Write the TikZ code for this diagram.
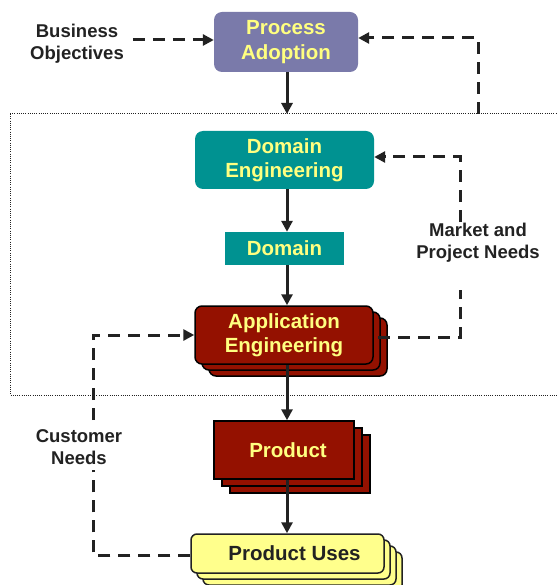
\documentclass[tikz,border=0pt]{standalone}
\usepackage{fontspec}
\setmainfont{Liberation Sans}
\usetikzlibrary{arrows.meta}
\definecolor{paFill}{RGB}{122,122,170}
\definecolor{teal2}{RGB}{0,146,145}
\definecolor{dred}{RGB}{148,17,0}
\definecolor{ylw}{RGB}{255,255,140}
\definecolor{txtY}{RGB}{255,255,128}
\definecolor{ink}{RGB}{34,34,34}
\tikzset{
  boxfont/.style={font=\fontsize{20.5}{24.5}\selectfont\bfseries, align=center, inner sep=0pt},
  pabox/.style={boxfont, fill=paFill, text=txtY, rounded corners=8pt, minimum width=144pt, minimum height=60pt},
  debox/.style={boxfont, fill=teal2, text=txtY, rounded corners=8pt, minimum width=179pt, minimum height=58pt},
  dbox/.style={boxfont, fill=teal2, text=txtY, minimum width=119pt, minimum height=33pt},
  aebox/.style={boxfont, fill=dred, draw=black, line width=1.5pt, text=txtY, rounded corners=7pt, minimum width=178pt, minimum height=58pt},
  prbox/.style={boxfont, fill=dred, draw=black, line width=1.5pt, text=txtY, minimum width=140pt, minimum height=58pt},
  pubox/.style={boxfont, fill=ylw, draw=ink, line width=1.5pt, text=ink, rounded corners=6pt, minimum width=193pt, minimum height=39pt},
  lbl/.style={font=\fontsize{18.5}{22}\selectfont\bfseries, align=center, text=ink, inner sep=1pt},
  flow/.style={draw=ink, line width=3pt, -{Triangle[length=11pt,width=11pt]}},
  dflow/.style={draw=ink, line width=3pt, dash pattern=on 12pt off 8pt, -{Triangle[length=11pt,width=11pt]}},
  dline/.style={draw=ink, line width=3pt, dash pattern=on 12pt off 8pt},
  scopebox/.style={draw=ink, line width=1pt, dash pattern=on 1pt off 1.2pt},
}
\begin{document}
\begin{tikzpicture}[x=1pt,y=-1pt]
\useasboundingbox (0,0) rectangle (556,585);
% dotted region
\draw[scopebox] (10,114) -- (570,114);
\draw[scopebox] (10,114) -- (10,395) -- (570,395);
\coordinate (scopeTop) at (287,114);
\coordinate (scopeRight) at (478,114);

% nodes
\node[pabox] (pa) at (286,42) {Process\\Adoption};
\node[debox] (de) at (284.5,160) {Domain\\Engineering};
\node[dbox] (dom) at (284.5,248.5) {Domain};

\node[aebox] (ae3) at (298,347) {};
\node[aebox] (ae2) at (291,341) {};
\node[aebox] (ae) at (284,335) {Application\\Engineering};

\node[prbox] (pr3) at (300,464) {};
\node[prbox] (pr2) at (292,457) {};
\node[prbox] (pr) at (284,450) {\hspace*{8pt}Product};

\node[pubox] (pu4) at (305.5,571.5) {};
\node[pubox] (pu3) at (299.5,565.5) {};
\node[pubox] (pu2) at (293.5,559.5) {};
\node[pubox] (pu) at (287.5,553.5) {\hspace*{14pt}Product Uses};

\node[lbl] (bo) at (77,44) {Business\\Objectives};
\node[lbl, fill=white, inner sep=3pt] (mp) at (478,243) {Market and\\Project Needs};
\node[lbl, fill=white, inner sep=3pt] (cn) at (79,447) {Customer\\Needs};

% solid flows
\draw[flow] (pa.south -| scopeTop) -- (scopeTop);
\draw[flow] (de.south -| scopeTop) -- (dom.north -| scopeTop);
\draw[flow] (dom.south -| scopeTop) -- (ae.north -| scopeTop);
\draw[flow] (ae.south -| scopeTop) -- (pr.north -| scopeTop);
\draw[flow] (pr.south -| scopeTop) -- (pu.north -| scopeTop);

% dashed flows
\draw[dflow] (bo.east |- 0,40) ++(8,0) -- (pa.west |- 0,40);
\draw[dflow] (scopeRight) -- (478,38) -- (pa.east |- 0,38);
\draw[dline] (378,337) -- (460,337) -- (460,290);
\draw[dflow] (460,222) -- (460,157) -- (de.east |- 0,157);
\draw[dline] (pu.west |- 0,555) -- (93,555) -- (93,470);
\draw[dflow] (93,420) -- (93,335) -- (ae.west |- 0,335);
\end{tikzpicture}
\end{document}
